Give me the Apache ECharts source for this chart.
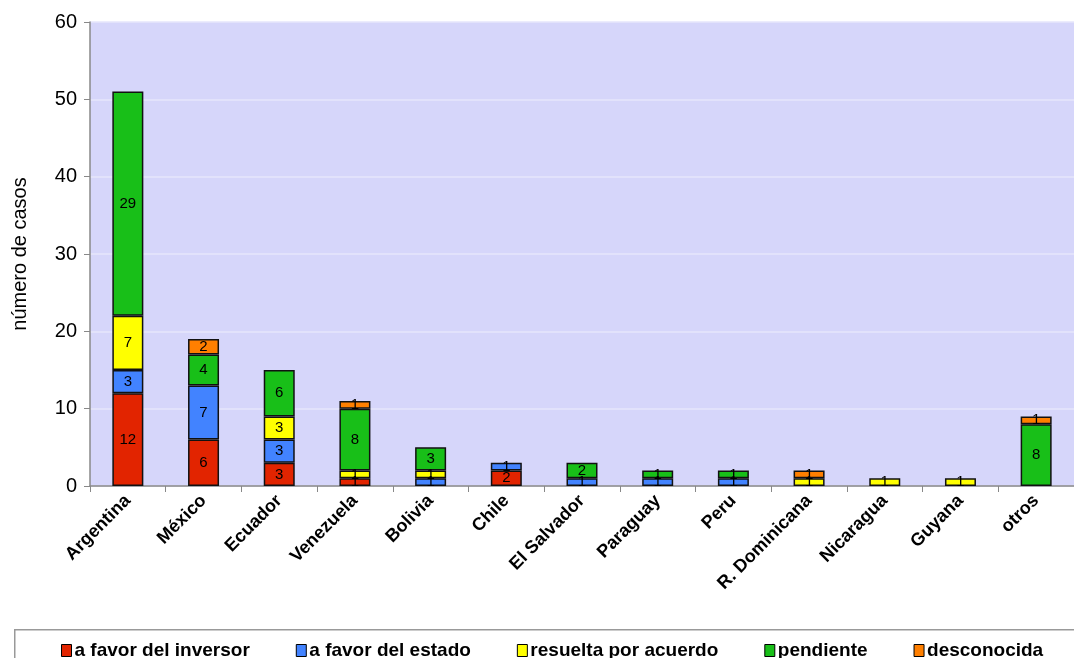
<!DOCTYPE html>
<html>
<head>
<meta charset="utf-8">
<script src="https://cdn.jsdelivr.net/npm/echarts@6/dist/echarts.min.js"></script>
<style>
  html, body { margin: 0; padding: 0; background: #fff; }
  #chart { width: 1074px; height: 658px; }
</style>
</head>
<body>
<div id="chart"></div>
<script>
var paises = ['Argentina', 'México', 'Ecuador', 'Venezuela', 'Bolivia', 'Chile', 'El Salvador',
  'Paraguay', 'Peru', 'R. Dominicana', 'Nicaragua', 'Guyana', 'otros'];
var favorInversor = [12, 6, 3, 1, 0, 2, 0, 0, 0, 0, 0, 0, 0];
var favorEstado   = [3, 7, 3, 0, 1, 1, 1, 1, 1, 0, 0, 0, 0];
var porAcuerdo    = [7, 0, 3, 1, 1, 0, 0, 0, 0, 1, 1, 1, 0];
var pendiente     = [29, 4, 6, 8, 3, 0, 2, 1, 1, 0, 0, 0, 8];
var desconocida   = [0, 2, 0, 1, 0, 0, 0, 0, 0, 1, 0, 0, 1];

var FONT = '"Liberation Sans", Arial, sans-serif';

function serie(name, data, color) {
  return {
    name: name,
    type: 'bar',
    stack: 'casos',
    barWidth: 31,
    data: data.map(function (v) { return v === 0 ? null : v; }),
    itemStyle: { color: color, borderColor: '#111', borderWidth: 1.5 },
    label: {
      show: true,
      position: 'inside',
      color: '#000',
      fontSize: 15,
      fontFamily: FONT
    }
  };
}

var chart = echarts.init(document.getElementById('chart'));
chart.setOption({
  animation: false,
  graphic: [{
    type: 'rect',
    left: 14, top: 629,
    shape: { width: 1080, height: 40 },
    style: { fill: '#fff', stroke: '#999', lineWidth: 1.5 },
    z: -1
  }],
  grid: {
    left: 90, top: 22, right: 0, bottom: 172,
    show: true,
    backgroundColor: '#D6D6FA',
    borderWidth: 0
  },
  legend: {
    top: 636,
    left: 56,
    itemWidth: 10,
    itemHeight: 12,
    itemGap: 46,
    icon: 'rect',
    textStyle: { fontSize: 19, fontWeight: 'bold', fontFamily: FONT, color: '#000', padding: [0, 0, 0, -2] },
    itemStyle: { borderColor: '#000', borderWidth: 1 },
    data: ['a favor del inversor', 'a favor del estado', 'resuelta por acuerdo', 'pendiente', 'desconocida']
  },
  xAxis: {
    type: 'category',
    data: paises,
    axisLine: { lineStyle: { color: '#888', width: 1.5 } },
    axisTick: { show: true, length: 6, lineStyle: { color: '#888' } },
    axisLabel: {
      rotate: 45,
      fontSize: 18,
      fontWeight: 'bold',
      fontFamily: FONT,
      color: '#000',
      margin: 12,
      interval: 0
    }
  },
  yAxis: {
    type: 'value',
    min: 0, max: 60, interval: 10,
    name: 'número de casos',
    nameLocation: 'middle',
    nameGap: 60,
    nameTextStyle: { fontSize: 20, fontFamily: FONT, color: '#000' },
    axisLine: { show: true, lineStyle: { color: '#888', width: 1.5 } },
    axisTick: { show: true, length: 6, lineStyle: { color: '#888' } },
    axisLabel: { fontSize: 20, fontFamily: FONT, color: '#000', margin: 13 },
    splitLine: { lineStyle: { color: '#E6E6FB', width: 1.5 } }
  },
  series: [
    serie('a favor del inversor', favorInversor, '#E22400'),
    serie('a favor del estado', favorEstado, '#4283FF'),
    serie('resuelta por acuerdo', porAcuerdo, '#FFFF00'),
    serie('pendiente', pendiente, '#18BF18'),
    serie('desconocida', desconocida, '#FF7F00')
  ]
});
</script>
</body>
</html>
